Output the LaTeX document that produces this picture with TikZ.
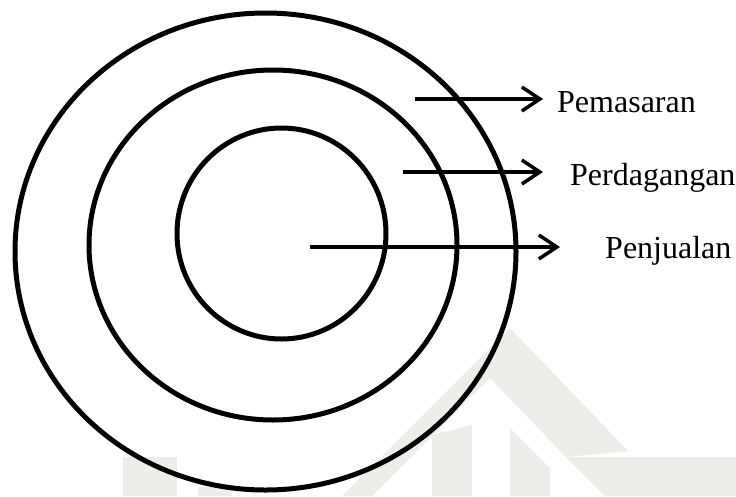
\documentclass[tikz,border=0pt]{standalone}
\usepackage{fontspec}
\setmainfont{Liberation Serif}
\usetikzlibrary{arrows.meta}
\definecolor{wmgray}{RGB}{237,237,234}

\begin{document}
\begin{tikzpicture}[x=1pt, y=-1pt,
        ring/.style={line width=5pt},
        pointer/.style={line width=3.5pt, -{Straight Barb[length=18pt, width=24pt]}},
        tag/.style={anchor=base west, inner sep=0pt, font=\fontsize{32}{36}\selectfont}]
        \useasboundingbox (0,0) rectangle (736,496);

        % Watermark
        \fill[wmgray] (510,328) -- (628,451) -- (566,457) -- (490,378) -- (372,496) -- (342,496) -- cycle;
        \fill[wmgray] (566,457) -- (736,457) -- (736,496) -- (605,496) -- cycle;
        \fill[wmgray] (432,435) -- (472,425) -- (472,496) -- (432,496) -- cycle;
        \fill[wmgray] (510,428) -- (550,468) -- (550,496) -- (510,496) -- cycle;
        \fill[wmgray] (123,457) rectangle (177,496);
        \fill[wmgray] (198,487) rectangle (232,496);

        % Rings
        \draw[ring] (265.5,251.5) ellipse [x radius=250.5, y radius=238.5];
        \draw[ring] (273,245) ellipse [x radius=184, y radius=175];
        \draw[ring] (281.5,233.5) ellipse [x radius=104.5, y radius=105.5];

        % Arrow ends
        \coordinate (pemStart) at (415,99);
        \coordinate (pemEnd) at (543,99);
        \coordinate (perStart) at (403,172);
        \coordinate (perEnd) at (543,172);
        \coordinate (penStart) at (310,247);
        \coordinate (penEnd) at (560,247);

        % Labels
        \node[tag] (pem) at (557,112) {Pemasaran};
        \node[tag] (per) at (570,185) {Perdagangan};
        \node[tag] (pen) at (605,258) {Penjualan};

        % Arrows
        \draw[pointer] (pemStart) -- (pemEnd);
        \draw[pointer] (perStart) -- (perEnd);
        \draw[pointer] (penStart) -- (penEnd);
\end{tikzpicture}
\end{document}
